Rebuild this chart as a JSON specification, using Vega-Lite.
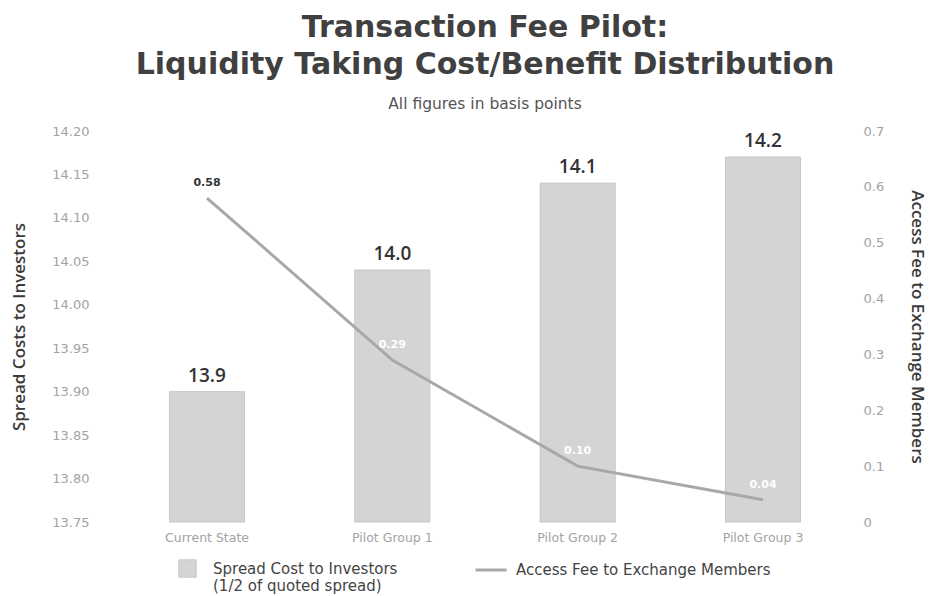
{
  "$schema": "https://vega.github.io/schema/vega-lite/v6.json",
  "autosize": {"type": "none"},
  "padding": {"left": 130, "top": 131, "right": 91, "bottom": 74},
  "width": 710,
  "height": 391,
  "background": "white",
  "title": {
    "text": ["Transaction Fee Pilot:", "Liquidity Taking Cost/Benefit Distribution"],
    "subtitle": "All figures in basis points",
    "font": "DejaVu Sans",
    "fontSize": 30,
    "fontWeight": "bold",
    "color": "#404040",
    "lineHeight": 37,
    "subtitleFont": "DejaVu Sans",
    "subtitleFontSize": 15.5,
    "subtitleColor": "#555555",
    "subtitlePadding": 17,
    "anchor": "middle",
    "offset": 13
  },
  "config": {
    "view": {"stroke": null},
    "axis": {"grid": false, "ticks": false, "domain": false, "labelFont": "DejaVu Sans", "labelColor": "#a3a3a3", "titleFont": "Open Sans", "titleColor": "#3a3a3a", "titleFontWeight": 600, "titleFontSize": 17},
    "legend": {"labelFont": "DejaVu Sans", "labelFontSize": 15, "labelColor": "#444444", "labelLimit": 0}
  },
  "data": {
    "values": [
      {"group": "Current State", "spread": 13.90, "fee": 0.58},
      {"group": "Pilot Group 1", "spread": 14.04, "fee": 0.29},
      {"group": "Pilot Group 2", "spread": 14.14, "fee": 0.10},
      {"group": "Pilot Group 3", "spread": 14.17, "fee": 0.04}
    ]
  },
  "encoding": {
    "x": {
      "field": "group",
      "type": "nominal",
      "sort": null,
      "scale": {"paddingInner": 0.595, "paddingOuter": 0.213},
      "axis": {"title": null, "labelAngle": 0, "labelFontSize": 12.5, "labelPadding": 9}
    }
  },
  "layer": [
    {
      "mark": {"type": "bar", "stroke": "#c6c6c6", "strokeWidth": 1},
      "encoding": {
        "y": {
          "field": "spread",
          "type": "quantitative",
          "scale": {"domain": [13.75, 14.2], "zero": false, "nice": false},
          "axis": {"title": "Spread Costs to Investors", "orient": "left", "values": [13.75, 13.8, 13.85, 13.9, 13.95, 14.0, 14.05, 14.1, 14.15, 14.2], "format": ".2f", "labelFontSize": 13, "labelPadding": 41, "titlePadding": 23}
        },
        "y2": {"datum": 13.75},
        "fill": {
          "datum": "Spread Cost to Investors",
          "scale": {"range": ["#d4d4d4"]},
          "legend": {
            "title": null,
            "orient": "none",
            "legendX": 48,
            "legendY": 428,
            "symbolType": "square",
            "symbolSize": 300,
            "symbolStrokeColor": "#c6c6c6",
            "symbolStrokeWidth": 1,
            "labelOffset": 16,
            "labelExpr": "['Spread Cost to Investors', '(1/2 of quoted spread)']"
          }
        }
      }
    },
    {
      "mark": {"type": "text", "font": "Open Sans", "fontSize": 19, "fontWeight": 600, "color": "#333333", "baseline": "bottom", "dy": -6},
      "encoding": {
        "y": {"field": "spread", "type": "quantitative", "scale": {"domain": [13.75, 14.2], "zero": false, "nice": false}, "axis": null},
        "text": {"field": "spread", "type": "quantitative", "format": ".1f"}
      }
    },
    {
      "mark": {"type": "line", "strokeWidth": 3},
      "encoding": {
        "y": {
          "field": "fee",
          "type": "quantitative",
          "scale": {"domain": [0, 0.7], "nice": false},
          "axis": {"title": "Access Fee to Exchange Members", "orient": "right", "values": [0, 0.1, 0.2, 0.3, 0.4, 0.5, 0.6, 0.7], "format": ".1~f", "labelFontSize": 13, "labelPadding": 23, "titlePadding": 24}
        },
        "stroke": {
          "datum": "Access Fee to Exchange Members",
          "scale": {"range": ["#a8a8a8"]},
          "legend": {
            "title": null,
            "orient": "none",
            "legendX": 344,
            "legendY": 422,
            "symbolType": "stroke",
            "symbolStrokeWidth": 3,
            "symbolSize": 961,
            "labelOffset": 8
          }
        }
      }
    },
    {
      "mark": {"type": "text", "font": "DejaVu Sans", "fontSize": 11, "fontWeight": "bold", "baseline": "bottom", "dy": -10},
      "encoding": {
        "y": {"field": "fee", "type": "quantitative", "scale": {"domain": [0, 0.7], "nice": false}, "axis": null},
        "text": {"field": "fee", "type": "quantitative", "format": ".2f"},
        "color": {
          "condition": {"test": "datum.group === 'Current State'", "value": "#333333"},
          "value": "#ffffff"
        }
      }
    }
  ],
  "resolve": {"scale": {"y": "independent"}}
}
